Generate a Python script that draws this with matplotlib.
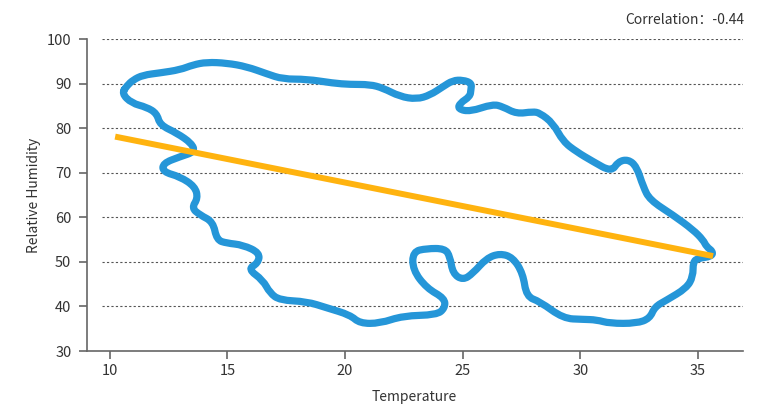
import matplotlib
matplotlib.use("Agg")
import matplotlib.pyplot as plt
from matplotlib.path import Path
from matplotlib.patches import PathPatch

plt.rcParams['font.family'] = ['Noto Sans CJK SC', 'DejaVu Sans']

# outline of the scatter cloud, traced clockwise from the leftmost point
outline_temp = [10.51, 10.73, 10.99, 11.41, 12.14, 12.99, 13.54, 14.12, 14.97, 15.82,
                16.67, 17.36, 18.37, 19.49, 20.21, 21.06, 21.61, 22.33, 23.04, 23.61,
                24.16, 24.58, 25.01, 25.38, 25.35, 25.31, 24.88, 24.80, 25.31, 26.28,
                26.71, 27.29, 27.98, 28.28, 28.84, 29.27, 29.84, 30.54, 31.32, 31.61,
                32.03, 32.39, 32.67, 32.95, 33.94, 34.79, 35.22, 35.36, 35.64, 35.57,
                35.00, 34.79, 34.79, 34.51, 33.66, 33.16, 32.95, 32.39, 31.25, 30.69,
                30.11, 29.27, 28.28, 27.71, 27.56, 27.13, 26.58, 26.01, 25.43, 25.01,
                24.58, 24.46, 24.24, 23.47, 22.88, 22.88, 23.47, 24.24, 24.24, 23.89,
                22.46, 21.48, 20.63, 20.21, 19.22, 18.37, 17.23, 16.81, 16.51, 15.87,
                16.30, 16.38, 15.66, 14.97, 14.55, 14.39, 13.84, 13.48, 13.75, 13.62,
                12.99, 12.26, 12.26, 12.99, 13.62, 13.48, 12.85, 12.14, 12.00, 11.57,
                10.93]
outline_hum = [87.8, 89.5, 90.8, 91.9, 92.4, 93.1, 94.2, 94.8, 94.6, 93.8,
               92.2, 91.0, 91.0, 90.1, 89.8, 89.8, 89.0, 87.1, 86.5, 87.4,
               89.3, 90.7, 90.8, 90.1, 88.6, 87.1, 85.6, 84.3, 83.7, 85.4,
               84.8, 83.2, 83.7, 83.4, 81.1, 77.0, 74.7, 72.5, 70.2, 72.5,
               73.0, 71.4, 66.9, 63.9, 60.5, 57.2, 54.9, 53.4, 52.3, 51.2,
               50.8, 50.0, 46.7, 44.1, 41.4, 39.9, 37.3, 36.2, 36.2, 37.0,
               37.1, 37.3, 41.1, 42.2, 47.4, 51.0, 51.9, 50.8, 47.4, 45.9,
               47.4, 51.2, 53.0, 53.0, 52.3, 48.2, 44.1, 41.8, 39.6, 38.1,
               37.9, 36.2, 36.2, 38.1, 39.7, 41.1, 41.4, 43.0, 45.9, 48.4,
               49.7, 52.0, 53.8, 54.2, 54.9, 59.0, 60.5, 62.1, 64.3, 66.9,
               69.1, 70.2, 72.1, 73.6, 74.7, 76.6, 78.9, 80.7, 83.3, 84.7,
               85.6]

# regression line end points
fit_temp = [10.23, 35.64]
fit_hum = [78.1, 51.3]

correlation = -0.44
x_ticks = [10, 15, 20, 25, 30, 35]
y_ticks = [30, 40, 50, 60, 70, 80, 90, 100]

fig = plt.figure(figsize=(7.71, 4.05), dpi=100)
ax = fig.add_axes([0.1124, 0.1333, 0.8509, 0.7704])

for yv in y_ticks[1:]:
    ax.axhline(yv, xmin=0.023, xmax=1, color='#555555', lw=0.8,
               linestyle=(0, (2, 2)), zorder=1)

# smooth closed stroke: traced points act as quadratic control points
pts = list(zip(outline_temp, outline_hum))
n = len(pts)
def mid(a, b):
    return ((a[0] + b[0]) / 2, (a[1] + b[1]) / 2)
verts = [mid(pts[0], pts[1])]
codes = [Path.MOVETO]
for i in range(1, n + 1):
    verts += [pts[i % n], mid(pts[i % n], pts[(i + 1) % n])]
    codes += [Path.CURVE3, Path.CURVE3]
outline = PathPatch(Path(verts, codes), facecolor='none', edgecolor='#2596d8',
                    lw=5.2, joinstyle='round', capstyle='round', zorder=2)
ax.add_patch(outline)

ax.plot(fit_temp, fit_hum, color='#ffb30f', lw=4.3,
        solid_capstyle='butt', zorder=3)

ax.set_xlim(9.02, 36.9)
ax.set_ylim(30, 100)
ax.set_xticks(x_ticks)
ax.set_yticks(y_ticks)

for side in ['top', 'right']:
    ax.spines[side].set_visible(False)
for side in ['left', 'bottom']:
    ax.spines[side].set_color('#666666')
    ax.spines[side].set_linewidth(1.2)

ax.tick_params(axis='both', colors='#666666', labelcolor='#333333',
               labelsize=10.5, width=1.2)
ax.tick_params(axis='y', length=6, pad=5)
ax.tick_params(axis='x', length=6, pad=3)

ax.set_xlabel('Temperature', fontsize=10, color='#333333')
ax.set_ylabel('Relative Humidity', fontsize=10, color='#333333',
              va='center')
ax.xaxis.set_label_coords(0.5, -0.125)
ax.yaxis.set_label_coords(-0.08, 0.5)

fig.text(744 / 771, 1 - 24 / 405, 'Correlation：' + str(correlation),
         ha='right', va='baseline', fontsize=10, color='#333333')

fig.savefig('out.png', dpi=100)
